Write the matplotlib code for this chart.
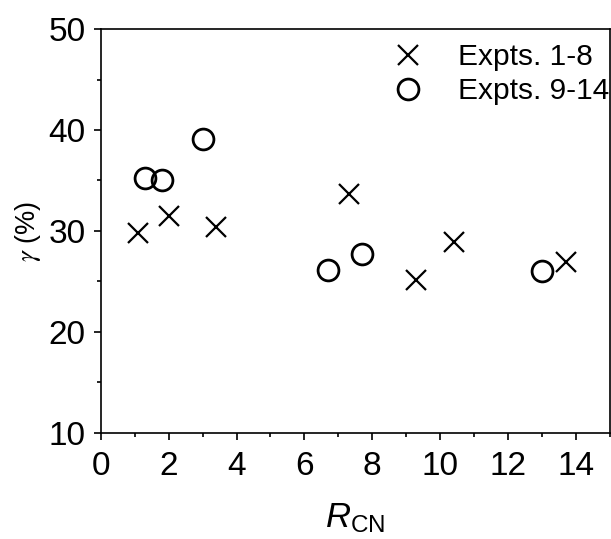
import matplotlib
matplotlib.use("Agg")
import matplotlib.pyplot as plt
from matplotlib.ticker import MultipleLocator

plt.rcParams["font.family"] = ["Liberation Sans", "DejaVu Sans"]
plt.rcParams["mathtext.fontset"] = "custom"
plt.rcParams["mathtext.it"] = "Liberation Sans:italic"
plt.rcParams["mathtext.rm"] = "Liberation Sans"

# Expts. 1-8 (crosses)
cross_x = [1.1, 2.0, 3.4, 7.3, 9.3, 10.4, 13.7]
cross_y = [29.8, 31.5, 30.4, 33.7, 25.1, 28.9, 26.9]

# Expts. 9-14 (circles)
circle_x = [1.3, 1.8, 3.0, 6.7, 7.7, 13.0]
circle_y = [35.2, 35.0, 39.1, 26.1, 27.7, 26.0]

fig = plt.figure(figsize=(6.11, 5.39), dpi=100)
ax = fig.add_axes([0.165, 0.197, 0.833, 0.749])

ax.plot(cross_x, cross_y, linestyle="none", marker="x", markersize=15,
        markeredgewidth=1.6, color="black", label="Expts. 1-8")
ax.plot(circle_x, circle_y, linestyle="none", marker="o", markersize=15,
        markeredgewidth=2.0, markerfacecolor="none", color="black",
        label="Expts. 9-14")

ax.set_xlim(0, 15)
ax.set_ylim(10, 50)
ax.xaxis.set_major_locator(MultipleLocator(2))
ax.xaxis.set_minor_locator(MultipleLocator(1))
ax.yaxis.set_major_locator(MultipleLocator(10))
ax.yaxis.set_minor_locator(MultipleLocator(5))
ax.tick_params(which="major", direction="out", length=5, width=1.2,
               labelsize=24)
ax.tick_params(axis="x", which="major", pad=8)
ax.tick_params(axis="y", which="major", pad=6)
ax.tick_params(which="minor", direction="out", length=3, width=1.2)
for s in ax.spines.values():
    s.set_linewidth(1.2)

ax.set_xlabel(r"$R_{\mathrm{CN}}$", fontsize=25, labelpad=14)
ax.set_ylabel(r"$\gamma$ (%)", fontsize=19.5, labelpad=4,
              math_fontfamily="stix")

ax.legend(loc="upper right", frameon=False, fontsize=21.5,
          bbox_to_anchor=(1.035, 1.01), handletextpad=0.9,
          labelspacing=0.2, borderaxespad=0.2, handlelength=1.6)

fig.savefig("out.png", dpi=100)
